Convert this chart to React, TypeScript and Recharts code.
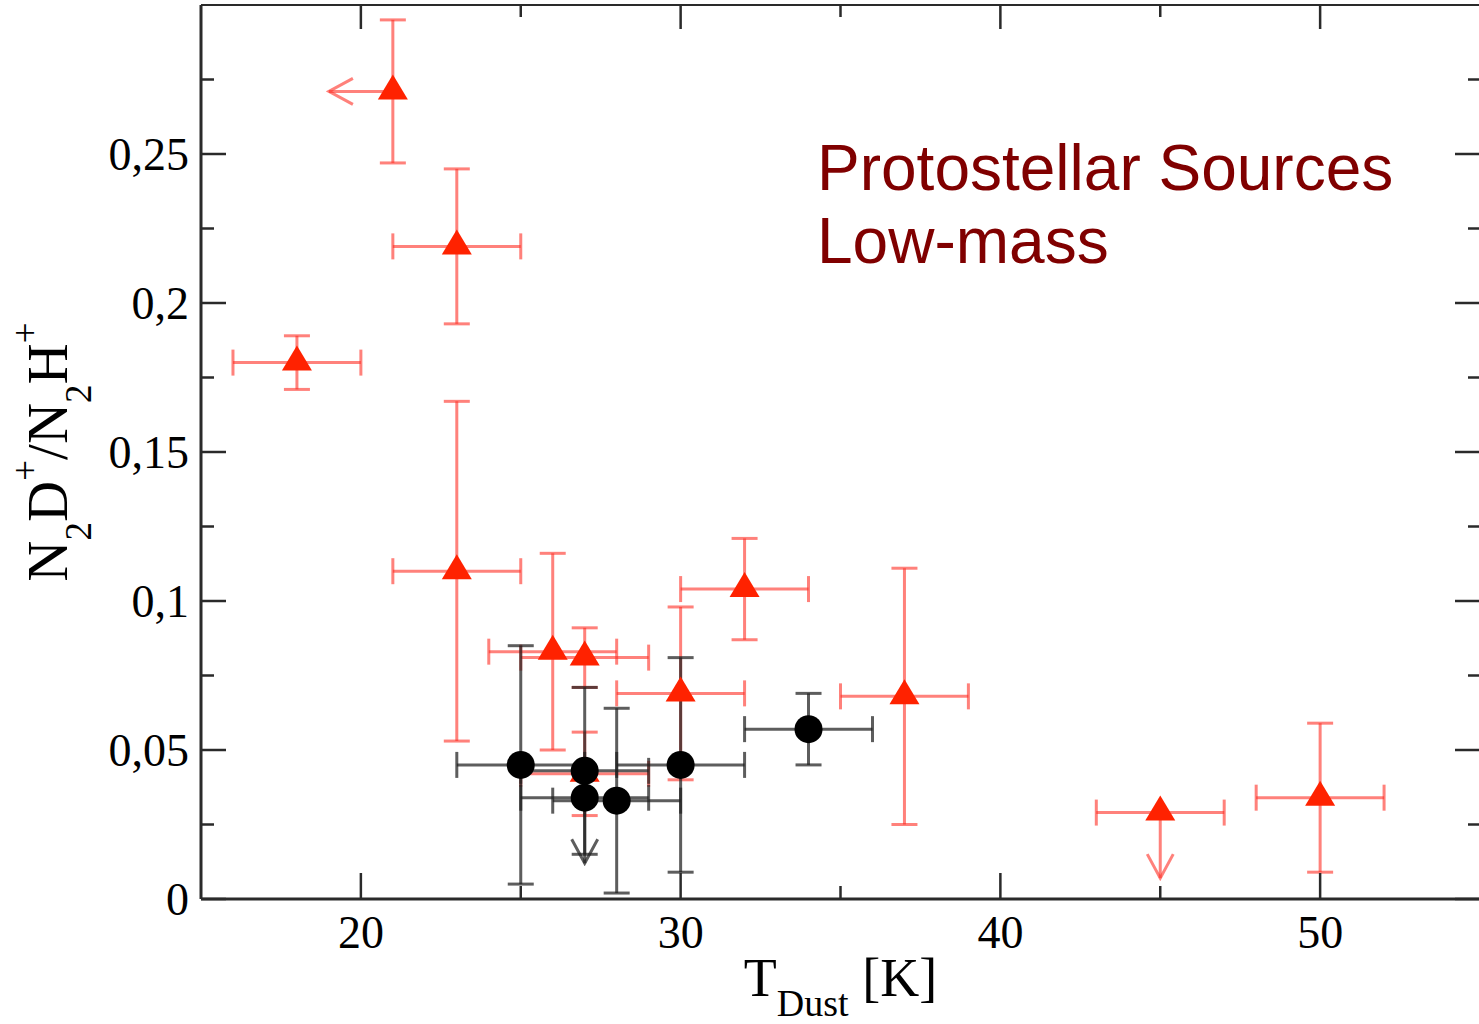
import {
  Customized,
  ErrorBar,
  ReferenceLine,
  Scatter,
  ScatterChart,
  XAxis,
  YAxis,
} from "recharts";

// red triangles: protostellar sources with full error bars
const redT = [18, 23, 23, 26, 27, 27, 30, 32, 37, 50];
const redRatio = [0.18, 0.219, 0.11, 0.083, 0.081, 0.042, 0.069, 0.104, 0.068, 0.034];
const redTErr = [2, 2, 2, 2, 2, 2, 2, 2, 2, 2];
const redRatioErr = [0.009, 0.026, 0.057, 0.033, 0.01, 0.014, 0.029, 0.017, 0.043, 0.025];

// red point with an upper limit on T (only ratio error)
const redTLimT = [21];
const redTLimRatio = [0.271];
const redTLimRatioErr = [0.024];

// red point with an upper limit on the ratio (only T error)
const redRLimT = [45];
const redRLimRatio = [0.029];
const redRLimTErr = [2];

// black circles
const blackT = [25, 27, 28, 30, 34];
const blackRatio = [0.045, 0.043, 0.033, 0.045, 0.057];
const blackTErr = [2, 2, 2, 2, 2];
const blackRatioErr = [0.04, 0.028, 0.031, 0.036, 0.012];

// black point with an upper limit on the ratio
const blackLimT = [27];
const blackLimRatio = [0.034];
const blackLimTErr = [2];

// limit arrows: start -> tip (data units)
const arrowStartT = [21, 45, 27];
const arrowStartRatio = [0.271, 0.029, 0.034];
const arrowEndT = [19, 45, 27];
const arrowEndRatio = [0.271, 0.007, 0.012];
const arrowColor = ["red", "red", "black"];

const xMajor = [20, 30, 40, 50];
const xMinor = [25, 35, 45];
const yMajor = [0, 0.05, 0.1, 0.15, 0.2, 0.25];
const yMinor = [0.025, 0.075, 0.125, 0.175, 0.225, 0.275];

const xTicks = [...xMajor, ...xMinor].sort((a, b) => a - b);
const yTicks = [...yMajor, ...yMinor].sort((a, b) => a - b);

const RED = "#ff2200";
const RED_BAR = "rgba(255, 45, 35, 0.6)";
const BLACK_BAR = "rgba(30, 30, 30, 0.72)";
const AXIS = "#2a2a2a";
const SERIF = "'Liberation Serif', 'DejaVu Serif', serif";

const redData = redT.map((t, i) => ({ t, ratio: redRatio[i], tErr: redTErr[i], ratioErr: redRatioErr[i] }));
const redTLimData = redTLimT.map((t, i) => ({ t, ratio: redTLimRatio[i], ratioErr: redTLimRatioErr[i] }));
const redRLimData = redRLimT.map((t, i) => ({ t, ratio: redRLimRatio[i], tErr: redRLimTErr[i] }));
const blackData = blackT.map((t, i) => ({ t, ratio: blackRatio[i], tErr: blackTErr[i], ratioErr: blackRatioErr[i] }));
const blackLimData = blackLimT.map((t, i) => ({ t, ratio: blackLimRatio[i], tErr: blackLimTErr[i] }));

const isMajor = (v: number, list: number[]) => list.some(m => Math.abs(m - v) < 1e-9);
const fmt = (v: number) => String(v).replace(".", ",");

function Triangle(p: any) {
  const { cx, cy } = p;
  return <polygon points={`${cx},${cy - 17} ${cx - 15},${cy + 8} ${cx + 15},${cy + 8}`} fill={RED} />;
}

function Dot(p: any) {
  return <circle cx={p.cx} cy={p.cy} r={14} fill="#000" />;
}

function Nothing() {
  return <g />;
}

function BottomTick({ x, y, payload }: any) {
  const major = isMajor(payload.value, xMajor);
  return (
    <g>
      <line x1={x} x2={x} y1={y} y2={y - (major ? 26 : 13)} stroke={AXIS} strokeWidth={2.5} />
      {major && (
        <text x={x} y={y + 49} textAnchor="middle" fontFamily={SERIF} fontSize={46} fill="#000">
          {payload.value}
        </text>
      )}
    </g>
  );
}

function TopTick({ x, y, payload }: any) {
  const major = isMajor(payload.value, xMajor);
  return <line x1={x} x2={x} y1={y} y2={y + (major ? 24 : 12)} stroke={AXIS} strokeWidth={2.5} />;
}

function LeftTick({ x, y, payload }: any) {
  const major = isMajor(payload.value, yMajor);
  return (
    <g>
      <line x1={x} x2={x + (major ? 25 : 13)} y1={y} y2={y} stroke={AXIS} strokeWidth={2.5} />
      {major && (
        <text x={x - 12} y={y + 16} textAnchor="end" fontFamily={SERIF} fontSize={46} fill="#000">
          {fmt(payload.value)}
        </text>
      )}
    </g>
  );
}

function RightTick({ x, y, payload }: any) {
  const major = isMajor(payload.value, yMajor);
  return <line x1={x} x2={x - (major ? 25 : 12)} y1={y} y2={y} stroke={AXIS} strokeWidth={2.5} />;
}

function XTitle({ viewBox }: any) {
  const cx = viewBox.x + viewBox.width / 2;
  return (
    <text x={cx} y={996} textAnchor="middle" fontFamily={SERIF} fontSize={54} fill="#000">
      T
      <tspan fontSize={38} dy={20}>Dust</tspan>
      <tspan dy={-20}> [K]</tspan>
    </text>
  );
}

function YTitle({ viewBox }: any) {
  const cy = viewBox.y + viewBox.height / 2;
  const x = 67;
  return (
    <text
      x={x}
      y={cy}
      transform={`rotate(-90 ${x} ${cy})`}
      textAnchor="middle"
      fontFamily={SERIF}
      fontSize={57}
      fill="#000"
    >
      N
      <tspan fontSize={37} dy={24}>2</tspan>
      <tspan dy={-24}>D</tspan>
      <tspan fontSize={37} dy={-29}>+</tspan>
      <tspan dy={29}>/N</tspan>
      <tspan fontSize={37} dy={24}>2</tspan>
      <tspan dy={-24}>H</tspan>
      <tspan fontSize={37} dy={-29}>+</tspan>
    </text>
  );
}

function Extras() {
  return (
    <g>
      <defs>
        <marker id="arrow-red" viewBox="0 0 30 30" refX={27} refY={15} markerWidth={30} markerHeight={30} markerUnits="userSpaceOnUse" orient="auto">
          <path d="M3,2 L27,15 L3,28" fill="none" stroke={RED_BAR} strokeWidth={3} />
        </marker>
        <marker id="arrow-black" viewBox="0 0 30 30" refX={27} refY={15} markerWidth={30} markerHeight={30} markerUnits="userSpaceOnUse" orient="auto">
          <path d="M3,2 L27,15 L3,28" fill="none" stroke={BLACK_BAR} strokeWidth={3} />
        </marker>
      </defs>
      <text x={817} y={190} fontFamily="'Liberation Sans', Arial, sans-serif" fontSize={64} fill="#800000">
        Protostellar Sources
      </text>
      <text x={817} y={263} fontFamily="'Liberation Sans', Arial, sans-serif" fontSize={64} fill="#800000">
        Low-mass
      </text>
    </g>
  );
}

export default function App() {
  return (
    <div style={{ position: "absolute", left: 0, top: 0, background: "#fff" }}>
      <ScatterChart width={1479} height={1024} margin={{ top: 0, right: -2, bottom: 0, left: 0 }}>
        <XAxis
          dataKey="t"
          type="number"
          domain={[15, 55]}
          ticks={xTicks}
          interval={0}
          height={125}
          tickSize={0}
          tickMargin={0}
          tickLine={false}
          tick={BottomTick}
          axisLine={{ stroke: AXIS, strokeWidth: 3 }}
          label={{ content: XTitle }}
        />
        <XAxis
          xAxisId="top"
          orientation="top"
          dataKey="t"
          type="number"
          domain={[15, 55]}
          allowDataOverflow
          ticks={xTicks}
          interval={0}
          height={5}
          tickSize={0}
          tickMargin={0}
          tickLine={false}
          tick={TopTick}
          axisLine={{ stroke: AXIS, strokeWidth: 2 }}
        />
        <YAxis
          dataKey="ratio"
          type="number"
          domain={[0, 0.3]}
          ticks={yTicks}
          interval={0}
          width={201}
          tickSize={0}
          tickMargin={0}
          tickLine={false}
          tick={LeftTick}
          axisLine={{ stroke: AXIS, strokeWidth: 3 }}
          label={{ content: YTitle }}
        />
        <YAxis
          yAxisId="right"
          orientation="right"
          dataKey="ratio"
          type="number"
          domain={[0, 0.3]}
          allowDataOverflow
          ticks={yTicks}
          interval={0}
          width={1}
          tickSize={0}
          tickMargin={0}
          tickLine={false}
          tick={RightTick}
          axisLine={false}
        />
        <Customized component={Extras} />
        {/* invisible series so the mirror axes on top and right get their ticks */}
        <Scatter data={redData} xAxisId="top" yAxisId="right" shape={Nothing} isAnimationActive={false} />
        <Scatter data={redData} shape={Triangle} isAnimationActive={false}>
          <ErrorBar dataKey="tErr" direction="x" width={13} stroke={RED_BAR} strokeWidth={3} isAnimationActive={false} />
          <ErrorBar dataKey="ratioErr" direction="y" width={13} stroke={RED_BAR} strokeWidth={3} isAnimationActive={false} />
        </Scatter>
        <Scatter data={redTLimData} shape={Triangle} isAnimationActive={false}>
          <ErrorBar dataKey="ratioErr" direction="y" width={13} stroke={RED_BAR} strokeWidth={3} isAnimationActive={false} />
        </Scatter>
        <Scatter data={redRLimData} shape={Triangle} isAnimationActive={false}>
          <ErrorBar dataKey="tErr" direction="x" width={13} stroke={RED_BAR} strokeWidth={3} isAnimationActive={false} />
        </Scatter>
        {arrowStartT.map((t, i) => (
          <ReferenceLine
            key={i}
            ifOverflow="visible"
            segment={[
              { x: t, y: arrowStartRatio[i] },
              { x: arrowEndT[i], y: arrowEndRatio[i] },
            ]}
            shape={(p: any) => (
              <line
                x1={p.x1}
                y1={p.y1}
                x2={p.x2}
                y2={p.y2}
                stroke={arrowColor[i] === "red" ? RED_BAR : BLACK_BAR}
                strokeWidth={3}
                markerEnd={arrowColor[i] === "red" ? "url(#arrow-red)" : "url(#arrow-black)"}
              />
            )}
          />
        ))}
        <Scatter data={blackData} shape={Dot} isAnimationActive={false}>
          <ErrorBar dataKey="tErr" direction="x" width={13} stroke={BLACK_BAR} strokeWidth={3} isAnimationActive={false} />
          <ErrorBar dataKey="ratioErr" direction="y" width={13} stroke={BLACK_BAR} strokeWidth={3} isAnimationActive={false} />
        </Scatter>
        <Scatter data={blackLimData} shape={Dot} isAnimationActive={false}>
          <ErrorBar dataKey="tErr" direction="x" width={13} stroke={BLACK_BAR} strokeWidth={3} isAnimationActive={false} />
        </Scatter>
      </ScatterChart>
    </div>
  );
}
